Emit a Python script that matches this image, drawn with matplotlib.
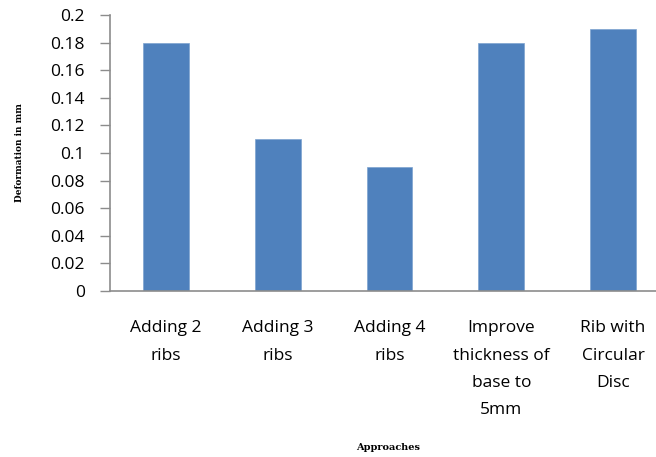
import matplotlib
matplotlib.use("Agg")
import matplotlib.pyplot as plt

approaches = ["Adding 2\nribs", "Adding 3\nribs", "Adding 4\nribs",
              "Improve\nthickness of\nbase to\n5mm", "Rib with\nCircular\nDisc"]
deformation = [0.18, 0.11, 0.09, 0.18, 0.19]
yticks = [0, 0.02, 0.04, 0.06, 0.08, 0.1, 0.12, 0.14, 0.16, 0.18, 0.2]
ytick_labels = ["0", "0.02", "0.04", "0.06", "0.08", "0.1", "0.12", "0.14", "0.16", "0.18", "0.2"]

fig = plt.figure(figsize=(6.56, 4.57), dpi=100)
ax = fig.add_axes([110 / 656, 1 - 291 / 457, 559 / 656, 276 / 457])

x = list(range(len(approaches)))
ax.bar(x, deformation, width=0.41, color="#4F81BD", edgecolor="#7da3cf", linewidth=0.5, zorder=2)

ax.set_xlim(-0.5, len(approaches) - 0.5)
ax.set_ylim(0, 0.2)
ax.set_yticks(yticks)
ax.set_yticklabels(ytick_labels, fontsize=12.5, family="Open Sans")
ax.set_xticks(x)
ax.set_xticklabels(approaches, fontsize=12.5, family="Open Sans", linespacing=1.95, va="top")

for s in ["top", "right"]:
    ax.spines[s].set_visible(False)
for s in ["left", "bottom"]:
    ax.spines[s].set_color("#8c8c8c")
    ax.spines[s].set_linewidth(1.2)

ax.tick_params(axis="y", direction="out", length=7, width=1, color="#8c8c8c", pad=11)
ax.tick_params(axis="x", length=0, pad=21)

fig.text(20 / 656, 1 - 153 / 457, "Deformation in mm", rotation=90, fontsize=6.5,
         family="DejaVu Serif", weight="bold", ha="center", va="center")
fig.text(388 / 656, 1 - 447 / 457, "Approaches", fontsize=7,
         family="DejaVu Serif", weight="bold", ha="center", va="center")

fig.savefig("out.png", dpi=100)
